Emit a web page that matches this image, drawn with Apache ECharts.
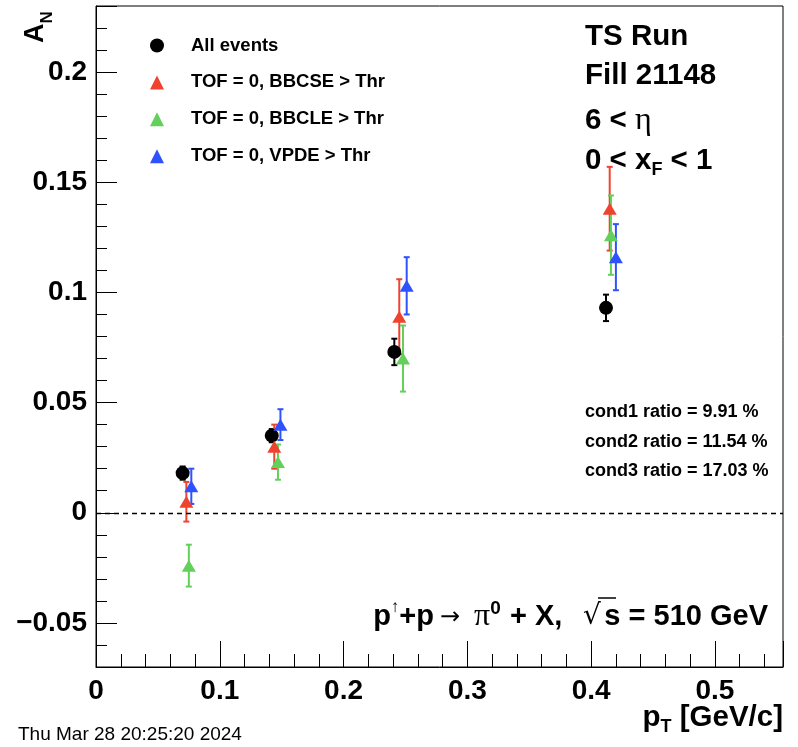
<!DOCTYPE html>
<html>
<head>
<meta charset="utf-8">
<script src="https://cdn.jsdelivr.net/npm/echarts@6/dist/echarts.min.js"></script>
<style>
  html, body { margin: 0; padding: 0; background: #fff; }
  #main { width: 798px; height: 747px; }
</style>
</head>
<body>
<div id="main"></div>
<script>
// A_N vs pT, four event selections (x, value, error)
const seriesNames = ['All events', 'TOF = 0, BBCSE > Thr', 'TOF = 0, BBCLE > Thr', 'TOF = 0, VPDE > Thr'];

const xAll = [0.070, 0.142, 0.241, 0.412];
const yAll = [0.018, 0.035, 0.073, 0.093];
const eAll = [0.003, 0.003, 0.006, 0.006];

const xBbcse = [0.073, 0.144, 0.245, 0.415];
const yBbcse = [0.005, 0.030, 0.089, 0.138];
const eBbcse = [0.009, 0.010, 0.017, 0.019];

const xBbcle = [0.075, 0.147, 0.248, 0.416];
const yBbcle = [-0.024, 0.023, 0.070, 0.126];
const eBbcle = [0.0095, 0.008, 0.015, 0.018];

const xVpde = [0.077, 0.149, 0.251, 0.420];
const yVpde = [0.012, 0.040, 0.103, 0.116];
const eVpde = [0.008, 0.007, 0.013, 0.015];

const condLabels = ['cond1 ratio = 9.91 %', 'cond2 ratio = 11.54 %', 'cond3 ratio = 17.03 %'];

const FONT = 'Liberation Sans, Arial, sans-serif';
const SERIF = 'Liberation Serif, serif';
const colors = ['#000000', '#f0432f', '#62d05a', '#2f52ff'];

const chart = echarts.init(document.getElementById('main'));

// error bar with small caps
function errRender(params, api) {
  const x = api.value(0);
  const y = api.value(1);
  const e = api.value(2);
  const top = api.coord([x, y + e]);
  const bot = api.coord([x, y - e]);
  const style = { stroke: api.visual('color'), lineWidth: 2 };
  return {
    type: 'group',
    children: [
      { type: 'line', shape: { x1: top[0], y1: top[1], x2: bot[0], y2: bot[1] }, style: style },
      { type: 'line', shape: { x1: top[0] - 3, y1: top[1], x2: top[0] + 3, y2: top[1] }, style: style },
      { type: 'line', shape: { x1: bot[0] - 3, y1: bot[1], x2: bot[0] + 3, y2: bot[1] }, style: style }
    ]
  };
}

function makeSeries(idx, xs, ys, es, symbol, size) {
  const pts = xs.map((x, i) => [x, ys[i], es[i]]);
  return [{
    type: 'custom',
    renderItem: errRender,
    itemStyle: { color: colors[idx] },
    encode: { x: 0, y: 1 },
    data: pts,
    silent: true
  }, {
    name: seriesNames[idx],
    type: 'scatter',
    symbol: symbol,
    symbolSize: size,
    itemStyle: { color: colors[idx], opacity: 1 },
    encode: { x: 0, y: 1 },
    data: pts
  }];
}

const series = [].concat(
  makeSeries(0, xAll, yAll, eAll, 'circle', 14),
  makeSeries(1, xBbcse, yBbcse, eBbcse, 'triangle', [14, 12]),
  makeSeries(2, xBbcle, yBbcle, eBbcle, 'triangle', [14, 12]),
  makeSeries(3, xVpde, yVpde, eVpde, 'triangle', [14, 12])
);

// dashed zero line
series[0].markLine = {
  silent: true,
  symbol: 'none',
  label: { show: false },
  lineStyle: { color: '#000', type: [5, 4], width: 1.3 },
  data: [{ yAxis: 0 }]
};

function txt(x, y, text, size, extra) {
  return {
    type: 'text', x: x, y: y,
    style: Object.assign({
      text: text, fontFamily: FONT, fontWeight: 'bold', fontSize: size,
      fill: '#000', textVerticalAlign: 'middle'
    }, extra || {})
  };
}

chart.setOption({
  animation: false,
  backgroundColor: '#fff',
  grid: {
    left: 96, right: 15, top: 6, bottom: 80,
    show: true, borderColor: '#000', borderWidth: 1
  },
  legend: {
    orient: 'vertical',
    left: 150, top: 36,
    padding: 0,
    itemWidth: 14, itemHeight: 14,
    itemGap: 17.9,
    data: [
      { name: seriesNames[0], icon: 'circle' },
      { name: seriesNames[1], icon: 'triangle' },
      { name: seriesNames[2], icon: 'triangle' },
      { name: seriesNames[3], icon: 'triangle' }
    ],
    textStyle: {
      fontFamily: FONT, fontWeight: 'bold', fontSize: 18.5, color: '#000',
      lineHeight: 14, padding: [0, 0, 0, 22]
    }
  },
  xAxis: {
    type: 'value',
    min: 0, max: 0.555,
    interval: 0.1,
    axisLine: { show: true, onZero: false, lineStyle: { color: '#000', width: 1 } },
    axisTick: { inside: true, length: 26, lineStyle: { color: '#000' } },
    minorTick: { show: true, splitNumber: 5, length: 13, lineStyle: { color: '#000' } },
    splitLine: { show: false },
    axisLabel: {
      showMaxLabel: false,
      margin: 10,
      fontFamily: FONT, fontWeight: 'bold', fontSize: 28, color: '#000'
    }
  },
  yAxis: {
    type: 'value',
    min: -0.07, max: 0.23,
    splitNumber: 6,
    axisLine: { show: true, onZero: false, lineStyle: { color: '#000', width: 1 } },
    axisTick: { inside: true, length: 21, lineStyle: { color: '#000' } },
    minorTick: { show: true, splitNumber: 5, length: 11, lineStyle: { color: '#000' } },
    splitLine: { show: false },
    axisLabel: {
      showMinLabel: false, showMaxLabel: false,
      margin: 9,
      fontFamily: FONT, fontWeight: 'bold', fontSize: 28, color: '#000',
      formatter: v => (v < 0 ? '\u2212' + Math.abs(v) : String(v))
    }
  },
  series: series,
  graphic: [
    // y title A_N, rotated
    {
      type: 'text', x: 56, y: 43, rotation: Math.PI / 2,
      style: {
        text: '{a|A}{s|N}', textAlign: 'left', textVerticalAlign: 'bottom',
        rich: {
          a: { fontFamily: FONT, fontWeight: 'bold', fontSize: 27, lineHeight: 34, verticalAlign: 'top' },
          s: { fontFamily: FONT, fontWeight: 'bold', fontSize: 17, lineHeight: 14, verticalAlign: 'bottom' }
        }
      }
    },
    // x title
    {
      type: 'text', x: 783, y: 718,
      style: {
        text: '{a|p}{s|T}{a| [GeV/c]}', textAlign: 'right', textVerticalAlign: 'middle',
        rich: {
          a: { fontFamily: FONT, fontWeight: 'bold', fontSize: 29.5, lineHeight: 36 },
          s: { fontFamily: FONT, fontWeight: 'bold', fontSize: 18, lineHeight: 14, verticalAlign: 'bottom' }
        }
      }
    },
    // date stamp
    txt(18, 735, 'Thu Mar 28 20:25:20 2024', 19, { fontWeight: 'normal' }),
    // run info
    txt(585, 37, 'TS Run', 29.5),
    txt(585, 76, 'Fill 21148', 29.5),
    {
      type: 'text', x: 585, y: 121,
      style: {
        text: '{b|6 < }{e|\u03b7}', textVerticalAlign: 'middle',
        rich: {
          b: { fontFamily: FONT, fontWeight: 'bold', fontSize: 29.5 },
          e: { fontFamily: SERIF, fontSize: 32 }
        }
      }
    },
    {
      type: 'text', x: 585, y: 161,
      style: {
        text: '{b|0 < x}{s|F}{b| < 1}', textVerticalAlign: 'middle',
        rich: {
          b: { fontFamily: FONT, fontWeight: 'bold', fontSize: 29.5, lineHeight: 36 },
          s: { fontFamily: FONT, fontWeight: 'bold', fontSize: 18, lineHeight: 14, verticalAlign: 'bottom' }
        }
      }
    },
    // ratios
    txt(585, 412, condLabels[0], 18),
    txt(585, 442, condLabels[1], 18),
    txt(585, 471, condLabels[2], 18),
    // reaction: p(up)+p -> pi0 + X, sqrt(s) = 510 GeV
    {
      type: 'text', x: 434, y: 617,
      style: {
        text: '{b|p}{u|\u2191}{b|+p}', textAlign: 'right', textVerticalAlign: 'middle',
        rich: {
          b: { fontFamily: FONT, fontWeight: 'bold', fontSize: 29, lineHeight: 36 },
          u: { fontFamily: FONT, fontWeight: 'bold', fontSize: 17, lineHeight: 16, verticalAlign: 'top' }
        }
      }
    },
    txt(440, 618, '\u2192', 24, { fontFamily: 'DejaVu Sans, sans-serif', fontWeight: 'normal' }),
    {
      type: 'text', x: 474, y: 617,
      style: {
        text: '{g|\u03c0}{u|0}', textVerticalAlign: 'middle',
        rich: {
          g: { fontFamily: SERIF, fontSize: 32, lineHeight: 36 },
          u: { fontFamily: FONT, fontWeight: 'bold', fontSize: 19, lineHeight: 16, verticalAlign: 'top' }
        }
      }
    },
    txt(510, 617, '+ X,', 29),
    txt(583, 617, '\u221a', 28, { fontFamily: 'DejaVu Sans, sans-serif', fontWeight: 'normal' }),
    txt(768, 617, 's = 510 GeV', 29, { textAlign: 'right' }),
    { type: 'line', shape: { x1: 598, y1: 598, x2: 616, y2: 598 }, style: { stroke: '#000', lineWidth: 1.5 } }
  ]
});
</script>
</body>
</html>
